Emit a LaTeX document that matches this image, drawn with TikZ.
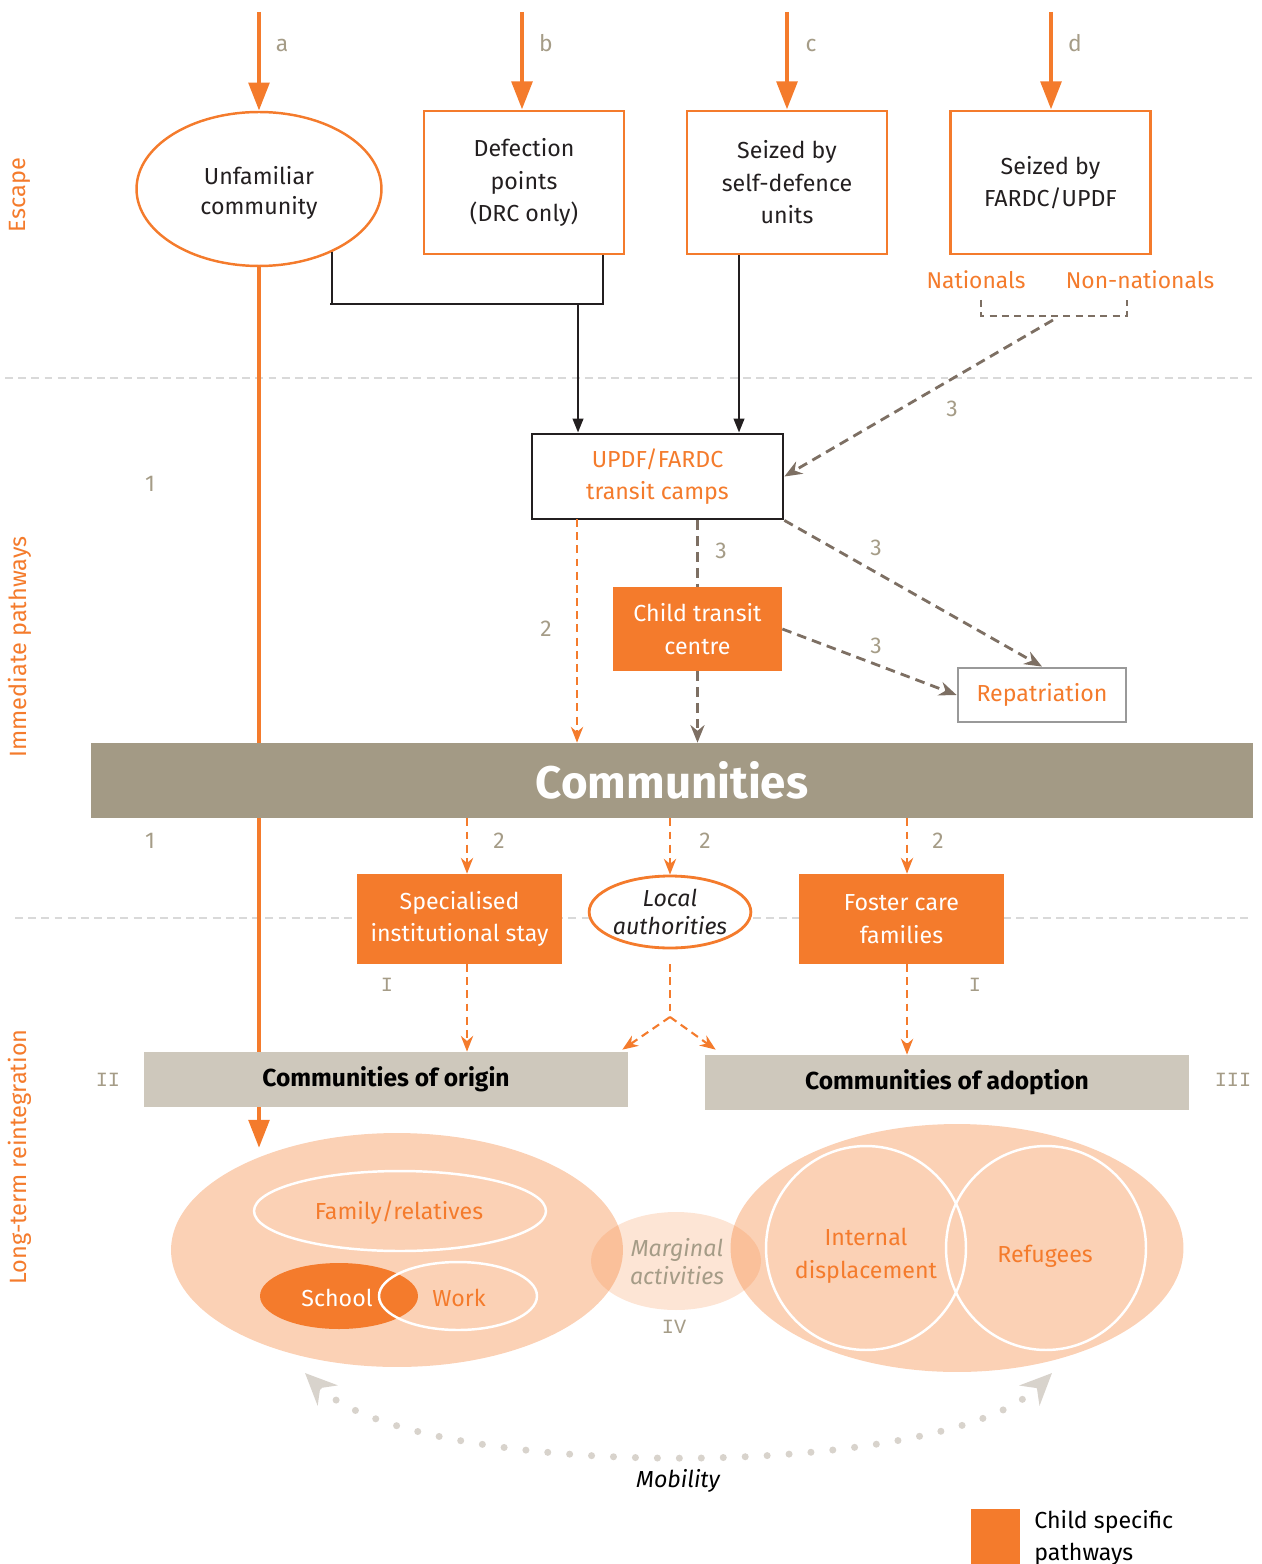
\documentclass[tikz,border=0pt]{standalone}
\usepackage{fontspec}
\setmainfont{Fira Sans}
\setmonofont{Liberation Mono}
\usetikzlibrary{shapes.geometric,arrows.meta,calc}

\definecolor{orng}{HTML}{F47B2C}
\definecolor{labgray}{HTML}{A59C87}
\definecolor{dashbrown}{HTML}{7D6F63}
\definecolor{bargray}{HTML}{A39A85}
\definecolor{lightbox}{HTML}{CEC8BC}
\definecolor{sepgray}{HTML}{D9D9D9}
\definecolor{dotgray}{HTML}{D8D3CC}
\definecolor{ink}{HTML}{231F20}

\tikzset{
  txt/.style={font=\fontsize{13.2}{18.5}\selectfont, align=center, inner sep=0pt, text=ink},
  lab/.style={font=\fontsize{13}{15}\selectfont, text=labgray, inner sep=0pt},
  roman/.style={font=\ttfamily\fontsize{11.5}{13}\selectfont, text=labgray, inner sep=0pt},
  side/.style={font=\fontsize{13.4}{15}\selectfont, text=orng, rotate=90, inner sep=0pt},
  obox/.style={txt, draw=orng, line width=1.6pt, minimum width=4cm, minimum height=2.86cm},
  cbox/.style={txt, fill=orng, text=white, minimum width=4.1cm, minimum height=1.8cm},
  gbox/.style={fill=lightbox, text=black, font=\bfseries\fontsize{14}{16}\selectfont, minimum width=9.68cm, minimum height=1.1cm},
  bigarrow/.style={draw=orng, line width=2.8pt, -{Triangle[length=16pt,width=11.5pt]}},
  blkline/.style={draw=ink, line width=1.4pt},
  blkarrow/.style={blkline, -{Triangle[length=8pt,width=6pt]}},
  brdash/.style={draw=dashbrown, line width=1.6pt, dash pattern=on 5.5pt off 3.5pt},
  brarrow/.style={brdash, -{Stealth[length=10pt,width=8pt]}},
  ordash/.style={draw=orng, line width=1.2pt, dash pattern=on 4.5pt off 3pt},
  orarrow/.style={ordash, -{Stealth[length=9pt,width=7pt]}},
  sep/.style={draw=sepgray, line width=1.2pt, dash pattern=on 4.5pt off 3pt},
  blob/.style={ellipse, fill=orng, fill opacity=0.35, inner sep=0pt},
  ring/.style={ellipse, draw=white, line width=1.4pt, inner sep=0pt},
}

\begin{document}
\begin{tikzpicture}[x=0.02cm,y=-0.02cm]
\useasboundingbox (0,0) rectangle (1261,1564);

% separators and side titles
\draw[sep] (5,378) -- (1253,378);
\draw[sep] (15,918) -- (1253,918);
\node[side] (sEscape) at (20,195) {Escape};
\node[side] (sImm) at (20,647) {Immediate pathways};
\node[side] (sLong) at (20,1157) {Long-term reintegration};

% escape
\node[txt, ellipse, draw=orng, line width=1.4pt, minimum width=4.9cm, minimum height=3.08cm] (unfam) at (259,189) {};
\node[txt] (unfamt) at (259,193) {Unfamiliar\\[-1.5pt]community};
\node[obox] (defect) at (524,182.5) {Defection\\points\\(DRC only)};
\node[obox] (selfdef) at (787,182.5) {Seized by\\self-defence\\units};
\node[obox] (fardc) at (1050.5,182.5) {Seized by\\FARDC/UPDF};

\coordinate (a0) at (259,12);
\coordinate (b0) at (522,12);
\coordinate (c0) at (787,12);
\coordinate (d0) at (1051,12);
\draw[bigarrow] (a0) -- (unfam.north);
\draw[bigarrow] (b0) -- (b0 |- defect.north);
\draw[bigarrow] (c0) -- (c0 |- selfdef.north);
\draw[bigarrow] (d0) -- (d0 |- fardc.north);
\node[lab, anchor=base] (la) at (282,52) {a};
\node[lab, anchor=base] (lb) at (546,52) {b};
\node[lab, anchor=base] (lc) at (811,52) {c};
\node[lab, anchor=base] (ld) at (1075,52) {d};

\node[lab, text=orng] (nat) at (976,280) {Nationals};
\node[lab, text=orng] (nonnat) at (1140,280) {Non-nationals};
\coordinate (brl) at (981,300);
\coordinate (brr) at (1127,300);
\coordinate (brm) at (1053,320);
\draw[brdash, line width=1.4pt, dash pattern=on 4pt off 3pt] (brl) -- ++(0,16) -| (brr);

% path 1 (under the bars)
\coordinate (a1) at (259,1148);
\draw[bigarrow] (unfam.south) -- (a1);
\node[lab] (n1a) at (150,484) {1};
\node[lab] (n1b) at (150,841) {1};

% immediate pathways
\node[txt, text=orng, draw=ink, line width=1.6pt, minimum width=5.02cm, minimum height=1.7cm] (camps) at (657.5,476.5) {UPDF/FARDC\\transit camps};
\node[cbox, minimum width=3.38cm, minimum height=1.68cm] (child) at (697.5,629) {Child transit\\centre};
\node[txt, text=orng, draw=black!40, line width=1.6pt, minimum width=3.36cm, minimum height=1.08cm] (repat) at (1042,695) {Repatriation};

\coordinate (j1) at (330,304);
\coordinate (j2) at (578,304);
\coordinate (j3) at (739,304);
\draw[blkline] (unfam.-41) |- (j1) -| ($(defect.south)+(79,0)$);
\draw[blkarrow] (j2) -- (j2 |- camps.north);
\draw[blkarrow] (j3 |- selfdef.south) -- (j3 |- camps.north);
\draw[brarrow] (brm) -- (camps.east);
\node[lab] (n3a) at (952,409) {3};

\node[fill=bargray, text=white, minimum width=23.24cm, minimum height=1.5cm, font=\bfseries\fontsize{26}{30}\selectfont] (comm) at (672,780.5) {Communities};

\coordinate (c2) at (577,519);
\draw[orarrow] (c2) -- (c2 |- comm.north);
\draw[brdash] (child.north |- camps.south) -- (child.north);
\draw[brarrow] (child.south) -- (child.south |- comm.north);
\draw[brarrow] (camps.south east) -- (repat.north);
\draw[brarrow] (child.east) -- (repat.west);
\node[lab] (n2a) at (546,629) {2};
\node[lab] (n3b) at (721,551) {3};
\node[lab] (n3c) at (876,548) {3};
\node[lab] (n3d) at (876,646) {3};

% long-term reintegration
\node[cbox, minimum width=4.1cm] (special) at (459.5,919) {Specialised\\institutional stay};
\node[txt, ellipse, fill=white, draw=orng, line width=1.6pt, minimum width=3.04cm, minimum height=1.44cm, font=\itshape\fontsize{13.2}{16}\selectfont] (local) at (670,912) {Local\\authorities};
\node[cbox, minimum width=4.1cm] (foster) at (901.5,919) {Foster care\\families};
\node[gbox] (origin) at (386,1079.5) {Communities of origin};
\node[gbox] (adopt) at (947,1082.5) {Communities of adoption};

\coordinate (p1) at (467,964);
\coordinate (p2) at (907,964);
\coordinate (l1) at (670,964);
\coordinate (l2) at (670,1017);
\draw[orarrow] (p1 |- comm.south) -- (p1 |- special.north);
\draw[orarrow] (local.north |- comm.south) -- (local.north);
\draw[orarrow] (p2 |- comm.south) -- (p2 |- foster.north);
\draw[orarrow] (p1) -- (p1 |- origin.north);
\draw[ordash] (l1) -- (l2);
\draw[orarrow] (l2) -- ($(origin.north east)+(-6,-2)$);
\draw[orarrow] (l2) -- ($(adopt.north west)+(11,-5)$);
\draw[orarrow] (p2) -- (p2 |- adopt.north);
\node[lab] (n2b) at (499,841) {2};
\node[lab] (n2c) at (705,841) {2};
\node[lab] (n2d) at (938,841) {2};
\node[roman] (r1a) at (387,985) {I};
\node[roman] (r1b) at (975,985) {I};
\node[roman] (r2) at (108,1080) {II};
\node[roman] (r3) at (1233,1080) {III};

% the two worlds
\node[blob, minimum width=9.04cm, minimum height=4.68cm] (left) at (397,1250) {};
\node[blob, minimum width=9.06cm, minimum height=4.96cm] (right) at (957,1248) {};
\node[blob, fill opacity=0.2, minimum width=3.4cm, minimum height=1.96cm] (marg) at (676,1261) {};
\node[txt, text=labgray, font=\itshape\fontsize{13.2}{16}\selectfont] (margt) at (677,1262) {Marginal\\activities};
\node[roman] (r4) at (674,1327) {IV};

\node[ring, minimum width=5.84cm, minimum height=1.6cm] (family) at (400,1211) {};
\node[ellipse, fill=orng, minimum width=3.16cm, minimum height=1.32cm, inner sep=0pt] (school) at (339,1296) {};
\node[ring, minimum width=3.16cm, minimum height=1.36cm] (work) at (458,1296) {};
\node[ring, minimum width=4cm, minimum height=4.08cm] (internal) at (866,1248) {};
\node[ring, minimum width=4cm, minimum height=4.08cm] (refug) at (1046,1248) {};
\node[txt, text=orng] (familyt) at (399,1213) {Family/relatives};
\node[txt, text=white] (schoolt) at (337,1298) {School};
\node[txt, text=orng] (workt) at (459,1298) {Work};
\node[txt, text=orng] (internalt) at (866,1256) {Internal\\displacement};
\node[txt, text=orng] (refugt) at (1045,1256) {Refugees};

% mobility
\coordinate (m1) at (305,1373);
\coordinate (m2) at (1052,1373);
\draw[dotgray, line width=4pt, line cap=round, dash pattern=on 0pt off 12.5pt,
  {Stealth[length=18pt,width=16pt]}-{Stealth[length=18pt,width=16pt]}]
  (m1) .. controls (415,1482) and (943,1482) .. (m2);
\node[txt, font=\itshape\fontsize{13.2}{15}\selectfont, text=black] (mob) at (678,1481) {Mobility};

% legend
\node[fill=orng, minimum width=0.98cm, minimum height=1.1cm, inner sep=0pt] (key) at (995.5,1536.5) {};
\node[txt, align=left, anchor=north west, text=black, font=\fontsize{13.2}{18.5}\selectfont] (keyt) at (1034,1510) {Child specific\\pathways};
\end{tikzpicture}
\end{document}
